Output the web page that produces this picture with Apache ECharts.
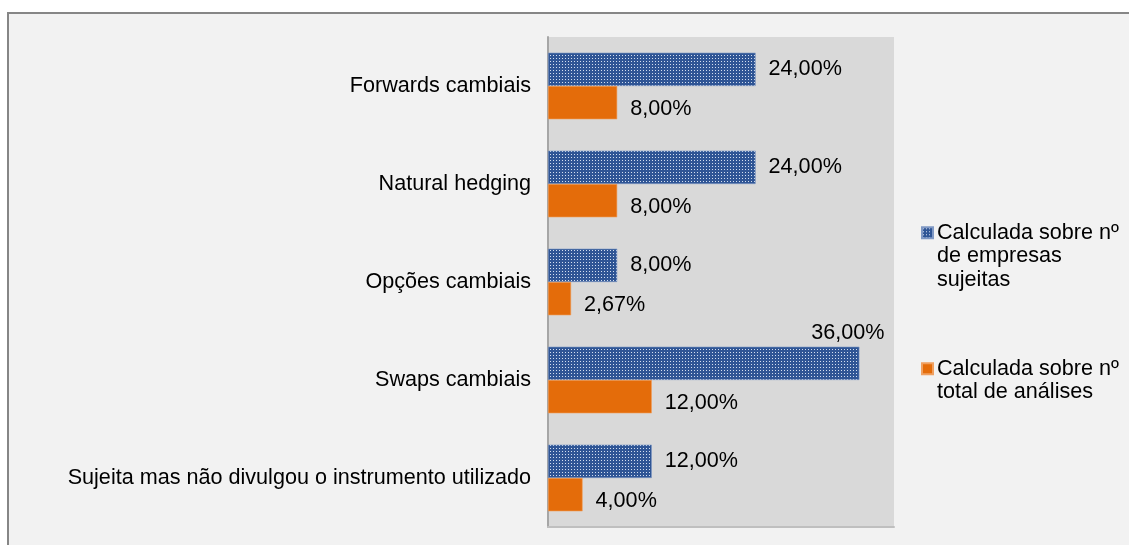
<!DOCTYPE html>
<html>
<head>
<meta charset="utf-8">
<script src="https://cdn.jsdelivr.net/npm/echarts@6/dist/echarts.min.js"></script>
<style>
  html, body { margin: 0; padding: 0; background: #ffffff; }
  #chart { width: 1129px; height: 545px; }
</style>
</head>
<body>
<div id="chart"></div>
<script>
// Instrumentos de cobertura cambial
const categories = [
  'Forwards cambiais',
  'Natural hedging',
  'Opções cambiais',
  'Swaps cambiais',
  'Sujeita mas não divulgou o instrumento utilizado'
];
const seriesNames = [
  'Calculada sobre nº de empresas sujeitas',
  'Calculada sobre nº total de análises'
];
const empresasSujeitas = [24.00, 24.00, 8.00, 36.00, 12.00];
const totalAnalises = [8.00, 8.00, 2.67, 12.00, 4.00];

const FONT = "'Liberation Sans', Arial, sans-serif";
const FS = 21.6;

// Dotted blue fill for the first series
function dottedPattern() {
  const c = document.createElement('canvas');
  c.width = 3; c.height = 3;
  const ctx = c.getContext('2d');
  ctx.fillStyle = '#2f5595';
  ctx.fillRect(0, 0, 3, 3);
  ctx.fillStyle = '#d3deef';
  ctx.fillRect(1, 1, 1, 1);
  return c;
}
const blueFill = { image: dottedPattern(), repeat: 'repeat' };

const fmt = (v) => v.toFixed(2).replace('.', ',') + '%';

const blueData = empresasSujeitas.map((v) => {
  if (v >= 30) {
    // long bar: value sits above its end
    return {
      value: v,
      label: { position: ['100%', 0], align: 'right', verticalAlign: 'bottom', offset: [25, -3] }
    };
  }
  return v;
});

const chart = echarts.init(document.getElementById('chart'), null, { renderer: 'canvas' });
chart.setOption({
  backgroundColor: '#ffffff',
  animation: false,
  textStyle: { fontFamily: FONT },
  graphic: [{
    type: 'rect',
    z: -10,
    shape: { x: 8, y: 13, width: 1140, height: 560 },
    style: { fill: '#f2f2f2', stroke: '#868686', lineWidth: 2 }
  }],
  grid: {
    left: 548, right: 235, top: 37, bottom: 18,
    show: true, backgroundColor: '#d9d9d9', borderWidth: 0
  },
  xAxis: {
    type: 'value', min: 0, max: 40,
    axisLabel: { show: false }, axisTick: { show: false },
    splitLine: { show: false },
    axisLine: { show: true, lineStyle: { color: '#bfbfbf', width: 2 } }
  },
  yAxis: {
    type: 'category', data: categories, inverse: true,
    axisTick: { show: false },
    axisLine: { show: true, lineStyle: { color: '#a6a6a6', width: 2 } },
    axisLabel: { color: '#000000', fontSize: FS, fontFamily: FONT, margin: 17 }
  },
  legend: {
    orient: 'vertical', left: 921, top: 174, padding: 0,
    icon: 'rect', itemWidth: 11, itemHeight: 11, itemGap: 42,
    data: seriesNames,
    formatter: (name) => name === seriesNames[0]
      ? '\n\nCalculada sobre nº\nde empresas\nsujeitas'
      : '\nCalculada sobre nº\ntotal de análises',
    textStyle: { color: '#000000', fontSize: FS, lineHeight: 23.5, fontFamily: FONT, padding: [0, 0, 0, -1] }
  },
  series: [
    {
      name: seriesNames[0], type: 'bar', data: blueData,
      barGap: '0%', barCategoryGap: '32%',
      itemStyle: { color: blueFill, borderColor: '#7f98c4', borderWidth: 0.6 },
      label: {
        show: true, position: 'right', distance: 13,
        color: '#000000', fontSize: FS, fontFamily: FONT,
        formatter: (p) => fmt(p.value)
      }
    },
    {
      name: seriesNames[1], type: 'bar', data: totalAnalises,
      barGap: '0%', barCategoryGap: '32%',
      itemStyle: { color: '#e46c0a', borderColor: '#f0a060', borderWidth: 0.6 },
      label: {
        show: true, position: 'right', distance: 13, offset: [0, 6],
        color: '#000000', fontSize: FS, fontFamily: FONT,
        formatter: (p) => fmt(p.value)
      }
    }
  ]
});
</script>
</body>
</html>
